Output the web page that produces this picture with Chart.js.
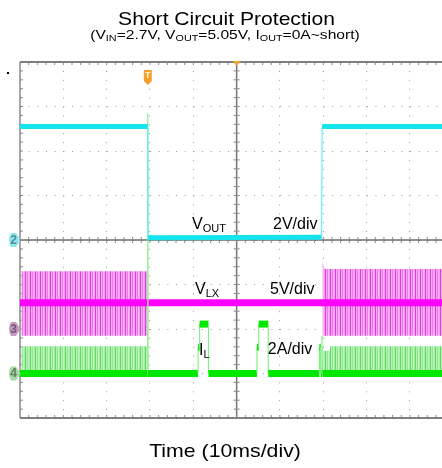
<!DOCTYPE html>
<html>
<head>
<meta charset="utf-8">
<script src="https://cdn.jsdelivr.net/npm/chart.js@4.4.0/dist/chart.umd.min.js"></script>
<style>
  html, body { margin: 0; padding: 0; background: #fff; }
  canvas { display: block; }
</style>
</head>
<body>
<canvas id="scopeChart" width="442" height="468"></canvas>
<script>
// time in ms (10 ms/div), levels in screen divisions (0 = centre line)
const voutTime = [0, 29.5, 29.55, 69.6, 69.75, 97.4];
const voutDiv  = [2.55, 2.55, 0.05, 0.06, 2.55, 2.55];

const vlxTime = [0, 97.4];
const vlxDiv  = [-1.41, -1.41];
// envelope of the switching bursts on LX
const vlxBurstTime = [0.3, 29.4, 29.45, 69.75, 69.8, 70.3, 97.4];
const vlxBurstTop  = [-0.70, -0.70, null, null, -0.47, -0.65, -0.65];
const vlxBurstLow  = -2.15;

const ilTime = [0, 29.5, 29.5, 29.55, 41.1, 41.1, 41.45, 41.45, 43.5, 43.5,
                54.7, 54.7, 55.1, 55.1, 57.3, 57.3, 69.1, 69.1, 69.4, 69.4,
                69.7, 69.7, 69.8, 97.4];
const ilDiv  = [-3.0, -3.0, 2.84, -3.0, -3.0, -2.41, -2.41, -1.89, -1.89, -3.0,
                -3.0, -2.41, -2.41, -1.89, -1.89, -3.0, -3.0, -2.41, -2.41, -3.0,
                -3.0, -2.15, -3.0, -3.0];
const ilBurstTime = [0.3, 29.4, 29.45, 69.85, 69.9, 71.5, 71.6, 97.4];
const ilBurstTop  = [-2.39, -2.39, null, null, -2.49, -2.49, -2.39, -2.39];
const ilBurstLow  = -3.0;

const channelNames = ['2', '3', '4'];
const channelGround = [0, -2.0, -3.0];
const triggerTime = 29.5;

function pts(xs, ys) { return xs.map((x, i) => ({ x: x, y: ys[i] })); }

const ctx = document.getElementById('scopeChart').getContext('2d');

function stripes(colors) {
  const c = document.createElement('canvas');
  c.width = colors.length; c.height = 4;
  const g = c.getContext('2d');
  colors.forEach((col, i) => { g.fillStyle = col; g.fillRect(i, 0, 1, 4); });
  return ctx.createPattern(c, 'repeat');
}

// thin light edges for vertical steps, thick trace elsewhere
function traceWidth(w) {
  return s => Math.abs(s.p1.x - s.p0.x) < 0.8 ? 1.2 : w;
}
function traceColor(thick, thin) {
  return s => Math.abs(s.p1.x - s.p0.x) < 0.8 ? thin : thick;
}

const FONT = "'Liberation Sans', Arial, sans-serif";

// centred text with subscripts; k = horizontal stretch
function rich(c, parts, x, y, size, subSize, k) {
  k = k || 1;
  let w = 0;
  parts.forEach(p => {
    c.font = (p[1] ? subSize : size) + 'px ' + FONT;
    w += c.measureText(p[0]).width;
  });
  c.save();
  c.translate(x, y);
  c.scale(k, 1);
  let cx = -w / 2;
  c.textAlign = 'left';
  c.textBaseline = 'alphabetic';
  parts.forEach(p => {
    c.font = (p[1] ? subSize : size) + 'px ' + FONT;
    c.fillText(p[0], cx, p[1] ? size * 0.22 : 0);
    cx += c.measureText(p[0]).width;
  });
  c.restore();
}

const frame = {
  id: 'frame',
  beforeDatasetsDraw(chart) {
    const c = chart.ctx, a = chart.chartArea, sx = chart.scales.x, sy = chart.scales.y;
    const cx = sx.getPixelForValue(50), cy = sy.getPixelForValue(0);
    const dx = (sx.getPixelForValue(10) - sx.getPixelForValue(0)) / 5;
    const dy = (sy.getPixelForValue(0) - sy.getPixelForValue(1)) / 5;
    const seg = (x1, y1, x2, y2) => { c.beginPath(); c.moveTo(x1, y1); c.lineTo(x2, y2); c.stroke(); };
    c.save();
    c.lineWidth = 1.5;
    c.strokeStyle = '#555';
    seg(a.left, a.top, a.right, a.top);
    seg(a.left, a.bottom, a.right, a.bottom);
    c.strokeStyle = '#8a8a8a';
    seg(a.left, a.top, a.left, a.bottom);
    c.strokeStyle = '#777';
    seg(cx, a.top, cx, a.bottom);
    c.strokeStyle = '#222';
    c.lineWidth = 1;
    seg(a.left, cy, a.right, cy);
    c.strokeStyle = '#888';
    for (let yy = a.top + dy; yy < a.bottom; yy += dy) {
      seg(cx - 3, yy, cx + 3, yy);
      seg(a.left, yy, a.left + 3, yy);
    }
    for (let xx = a.left + dx; xx < a.right; xx += dx) {
      seg(xx, cy - 3, xx, cy + 3);
      seg(xx, a.top, xx, a.top + 3);
      seg(xx, a.bottom - 3, xx, a.bottom);
    }
    c.restore();
  },
  afterDraw(chart) {
    const c = chart.ctx, a = chart.chartArea, sx = chart.scales.x, sy = chart.scales.y;
    c.save();
    // channel ground tags
    const tagFill = ['#8fe6ec', '#c79ac4', '#a6d8a6'];
    const tagText = ['#4d8f96', '#6e5a6e', '#5f7f5f'];
    channelNames.forEach((n, i) => {
      const y = sy.getPixelForValue(channelGround[i]);
      c.fillStyle = tagFill[i];
      c.beginPath();
      c.moveTo(11, y - 7); c.lineTo(16, y - 7); c.lineTo(20.5, y);
      c.lineTo(16, y + 7); c.lineTo(11, y + 7);
      c.quadraticCurveTo(7, y, 11, y - 7);
      c.fill();
      c.fillStyle = tagText[i];
      c.font = 'bold 12px ' + FONT;
      c.textAlign = 'center'; c.textBaseline = 'middle';
      c.fillText(n, 13.5, y + 0.5);
    });
    // trigger marker
    const tx = sx.getPixelForValue(triggerTime);
    c.fillStyle = '#f5a02a';
    c.beginPath();
    c.moveTo(tx - 4, 70); c.lineTo(tx + 4, 70); c.lineTo(tx + 4, 81);
    c.lineTo(tx, 85); c.lineTo(tx - 4, 81); c.closePath();
    c.fill();
    c.fillStyle = '#fff3dd';
    c.font = 'bold 9px ' + FONT;
    c.textAlign = 'center'; c.textBaseline = 'middle';
    c.fillText('T', tx, 76);
    const px = sx.getPixelForValue(50);
    c.fillStyle = '#f5a02a';
    c.beginPath();
    c.moveTo(px - 4, a.top - 1); c.lineTo(px + 4, a.top - 1); c.lineTo(px, a.top + 4); c.closePath();
    c.fill();
    c.fillStyle = '#000';
    c.fillRect(7, 72, 2, 2);

    // texts
    c.fillStyle = '#000';
    rich(c, [['Short Circuit Protection', 0]], 226.5, 25, 19, 19, 1.11);
    rich(c, [['(V', 0], ['IN', 1], ['=2.7V, V', 0], ['OUT', 1], ['=5.05V, I', 0], ['OUT', 1], ['=0A~short)', 0]],
         225, 38.5, 13, 9, 1.2);
    rich(c, [['Time (10ms/div)', 0]], 225, 457, 19, 19, 1.12);

    const lbl = (parts, t, d, size) => {
      let w = 0;
      parts.forEach(p => { c.font = (p[1] ? 11 : size) + 'px ' + FONT; w += c.measureText(p[0]).width; });
      rich(c, parts, sx.getPixelForValue(t) + w / 2, sy.getPixelForValue(d), size, 11);
    };
    lbl([['V', 0], ['OUT', 1]], 39.7, 0.25, 16);
    lbl([['2V/div', 0]], 58.4, 0.25, 16);
    lbl([['V', 0], ['LX', 1]], 40.4, -1.21, 16);
    lbl([['5V/div', 0]], 57.7, -1.21, 16);
    lbl([['I', 0], ['L', 1]], 41.3, -2.58, 16);
    lbl([['2A/div', 0]], 57.2, -2.56, 16);
    c.restore();
  }
};

new Chart(ctx, {
  type: 'line',
  data: {
    datasets: [
      {
        label: 'VOUT',
        data: pts(voutTime, voutDiv),
        borderColor: '#14e4ec',
        borderWidth: 5,
        segment: { borderWidth: traceWidth(5), borderColor: traceColor('#14e4ec', '#5ff0f4') },
        order: 1
      },
      {
        label: 'VLX',
        data: pts(vlxTime, vlxDiv),
        borderColor: '#ff00ff',
        borderWidth: 7,
        order: 3
      },
      {
        label: 'VLX switching',
        data: pts(vlxBurstTime, vlxBurstTop),
        borderWidth: 0,
        backgroundColor: stripes(['#e03de0', '#f7a8f2', '#ee7aea', '#f9b4f4', '#f5a0f0']),
        fill: { value: vlxBurstLow },
        order: 10
      },
      {
        label: 'IL',
        data: pts(ilTime, ilDiv),
        borderColor: '#00e800',
        borderWidth: 7,
        segment: { borderWidth: traceWidth(7), borderColor: traceColor('#00e800', '#86ee86') },
        order: 2
      },
      {
        label: 'IL switching',
        data: pts(ilBurstTime, ilBurstTop),
        borderWidth: 0,
        backgroundColor: stripes(['#5fdc5f', '#b6f2b6', '#8fe88f', '#c2f4c2', '#a8eea8']),
        fill: { value: ilBurstLow },
        order: 10
      }
    ]
  },
  options: {
    responsive: false,
    animation: false,
    events: [],
    elements: { point: { radius: 0 }, line: { tension: 0, borderCapStyle: 'butt' } },
    layout: { padding: { left: 20, top: 62, right: 0, bottom: 50 } },
    scales: {
      x: {
        type: 'linear',
        min: 0,
        max: 97.4,
        ticks: { display: false, stepSize: 10, includeBounds: false },
        grid: { color: '#9a9a9a', drawTicks: false, lineWidth: 1 },
        border: { display: false, dash: [1, 7.9] }
      },
      y: {
        min: -4,
        max: 4,
        ticks: { display: false, stepSize: 1 },
        grid: { color: '#9a9a9a', drawTicks: false, lineWidth: 1 },
        border: { display: false, dash: [1, 7.67] }
      }
    },
    plugins: {
      legend: { display: false },
      tooltip: { enabled: false }
    }
  },
  plugins: [frame]
});
</script>
</body>
</html>
